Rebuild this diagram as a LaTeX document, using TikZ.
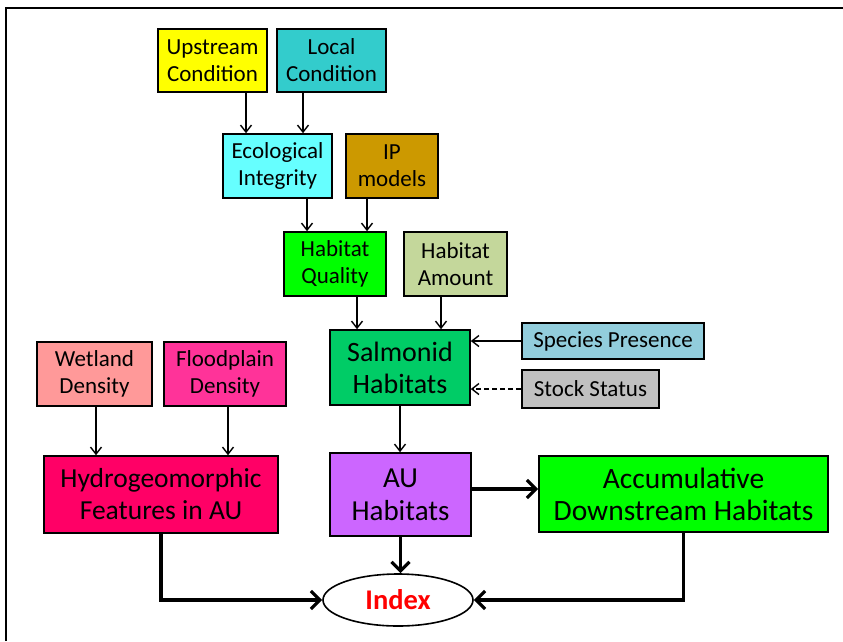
\documentclass[tikz,border=0pt]{standalone}
\usepackage{fontspec}
\setmainfont{Carlito}
\usetikzlibrary{arrows.meta,shapes.geometric}
\definecolor{cYel}{HTML}{FFFF00}
\definecolor{cLoc}{HTML}{33CCCC}
\definecolor{cEco}{HTML}{66FFFF}
\definecolor{cIP}{HTML}{CC9900}
\definecolor{cHQ}{HTML}{00FF00}
\definecolor{cHA}{HTML}{C4D79B}
\definecolor{cSal}{HTML}{00CC66}
\definecolor{cSpe}{HTML}{92CDDC}
\definecolor{cSto}{HTML}{C0C0C0}
\definecolor{cWet}{HTML}{FF9999}
\definecolor{cFlo}{HTML}{FF3399}
\definecolor{cHyd}{HTML}{FF0066}
\definecolor{cAU}{HTML}{CC66FF}
\definecolor{cAcc}{HTML}{00FF00}
\tikzset{
  box/.style={draw=black, line width=1.6pt, align=center, inner sep=1pt,
    font=\fontsize{23}{27}\selectfont},
  bigbox/.style={box, font=\fontsize{27.5}{32}\selectfont},
  thinarr/.style={line width=1.4pt, -{Straight Barb[length=7pt,width=11pt,line width=1.4pt]}},
  thickarr/.style={line width=3.6pt, -{Straight Barb[length=9pt,width=18pt,line width=3.2pt]}},
}
\begin{document}
\begin{tikzpicture}[x=1pt,y=-1pt]
\useasboundingbox (0,0) rectangle (843,641);
\draw[line width=2.4pt] (6,641) -- (6,8) -- (843,8);

\node[box, fill=cYel, minimum width=109pt, minimum height=63pt] (up) at (212.5,60.5) {Upstream\\Condition};
\node[box, fill=cLoc, minimum width=109pt, minimum height=63pt] (loc) at (331.5,60.5) {Local\\Condition};
\node[box, fill=cEco, minimum width=109pt, minimum height=64pt] (eco) at (277.5,166) {Ecological\\Integrity};
\node[box, fill=cIP, minimum width=92pt, minimum height=64pt] (ip) at (392,166) {IP\\models};
\node[box, fill=cHQ, minimum width=102pt, minimum height=64pt] (hq) at (335,264) {Habitat\\Quality};
\node[box, fill=cHA, minimum width=103pt, minimum height=64pt] (ha) at (455.5,264) {Habitat\\Amount};
\node[box, fill=cSal, minimum width=140pt, minimum height=75pt, font=\fontsize{28}{32}\selectfont] (sal) at (400,367.5) {Salmonid\\Habitats};
\node[box, fill=cSpe, minimum width=182pt, minimum height=36pt] (spe) at (613,341) {Species Presence};
\node[box, fill=cSto, minimum width=137pt, minimum height=38pt] (sto) at (590.5,389) {Stock Status};
\node[box, fill=cWet, minimum width=115pt, minimum height=64pt] (wet) at (94.5,374) {Wetland\\Density};
\node[box, fill=cFlo, minimum width=122pt, minimum height=64pt] (flo) at (225,374) {Floodplain\\Density};
\node[bigbox, fill=cHyd, minimum width=234pt, minimum height=77pt] (hyd) at (161,494.5) {Hydrogeomorphic\\Features in AU};
\node[bigbox, fill=cAU, minimum width=141pt, minimum height=83pt, font=\fontsize{29}{33}\selectfont] (au) at (400.5,494.5) {AU\\Habitats};
\node[bigbox, fill=cAcc, minimum width=289pt, minimum height=76pt, font=\fontsize{29.5}{32}\selectfont] (acc) at (683.5,494) {Accumulative\\Downstream Habitats};
\node[ellipse, draw=black, line width=1.6pt, fill=white, minimum width=150pt, minimum height=52pt, inner sep=0pt,
  text=red, font=\fontsize{28.5}{30}\selectfont\bfseries] (idx) at (398,600) {Index};

\draw[thinarr] ([xshift=33.5pt]up.south) coordinate (a1) -- (a1 |- eco.north);
\draw[thinarr] ([xshift=-28.5pt]loc.south) coordinate (a2) -- (a2 |- eco.north);
\draw[thinarr] ([xshift=29.5pt]eco.south) coordinate (a3) -- (a3 |- hq.north);
\draw[thinarr] ([xshift=-25pt]ip.south) coordinate (a4) -- (a4 |- hq.north);
\draw[thinarr] ([xshift=22pt]hq.south) coordinate (a5) -- (a5 |- sal.north);
\draw[thinarr] ([xshift=-14.5pt]ha.south) coordinate (a6) -- (a6 |- sal.north);
\draw[thinarr] (spe.west) -- (spe.west -| sal.east);
\draw[thinarr, dashed, dash pattern=on 5pt off 3pt] (sto.west) -- (sto.west -| sal.east);
\draw[thinarr] (sal.south) -- (sal.south |- au.north);
\draw[thinarr] ([xshift=1.5pt]wet.south) coordinate (a7) -- (a7 |- hyd.north);
\draw[thinarr] ([xshift=3pt]flo.south) coordinate (a8) -- (a8 |- hyd.north);
\draw[thickarr] ([yshift=5.5pt]au.east) coordinate (a9) -- (a9 -| acc.west);
\draw[thickarr] (au.south) -- (au.south |- idx.north);
\draw[thickarr] (hyd.south) -- (hyd.south |- idx.west) -- (idx.west);
\draw[thickarr] (acc.south) -- (acc.south |- idx.east) -- (idx.east);
\end{tikzpicture}
\end{document}
